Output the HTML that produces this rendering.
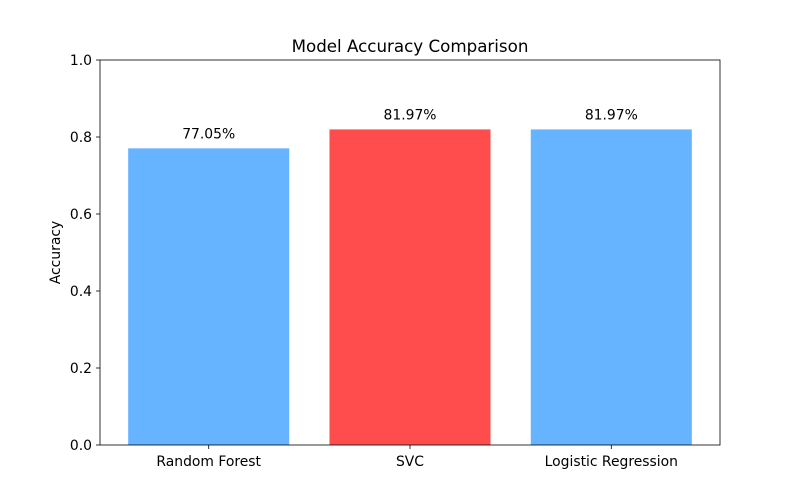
<!DOCTYPE html>
<html><head><meta charset="utf-8"><style>body{margin:0;background:#fff}svg{display:block;font-family:"DejaVu Sans","Liberation Sans",sans-serif}</style></head>
<body>
<svg id="chart" width="800" height="500"></svg>
<script>
const categories = ["Random Forest", "SVC", "Logistic Regression"];
const accuracies = [0.7705, 0.8197, 0.8197];
const barColors = ["#66b3ff", "#ff4c4c", "#66b3ff"];
const yTicks = [0.0, 0.2, 0.4, 0.6, 0.8, 1.0];

const svg = document.getElementById('chart');
const NS = 'http://www.w3.org/2000/svg';
const L = 100, R = 720, T = 60, B = 445;
const xmin = -0.54, xmax = categories.length - 1 + 0.54;
const xS = v => L + (v - xmin) / (xmax - xmin) * (R - L);
const yS = v => B - v * (B - T);
function mk(tag, attrs, parent) {
  const e = document.createElementNS(NS, tag);
  for (const k in attrs) e.setAttribute(k, attrs[k]);
  (parent || svg).appendChild(e);
  return e;
}
const title = mk('text', {x: (L + R) / 2, y: 52, 'text-anchor': 'middle', 'font-size': 16.7, fill: '#000'});
title.textContent = 'Model Accuracy Comparison';



categories.forEach((c, i) => {
  const x0 = xS(i - 0.4), x1 = xS(i + 0.4);
  const bar = mk('rect', {x: x0, y: yS(accuracies[i]), width: x1 - x0, height: yS(0) - yS(accuracies[i]), fill: barColors[i]});
  
  
  const lbl = mk('text', {x: xS(i), y: yS(accuracies[i]) - 10, 'text-anchor': 'middle', 'font-size': 13.9, fill: '#000'});
  lbl.textContent = (accuracies[i] * 100).toFixed(2) + '%';
  
  
  mk('line', {x1: xS(i), x2: xS(i), y1: B, y2: B + 4, stroke: '#000', 'stroke-width': 0.8});
  const tl = mk('text', {x: xS(i), y: B + 21, 'text-anchor': 'middle', 'font-size': 13.9, fill: '#000'});
  tl.textContent = c;
  
  
});
yTicks.forEach(v => {
  mk('line', {x1: L - 4, x2: L, y1: yS(v), y2: yS(v), stroke: '#000', 'stroke-width': 0.8});
  const t = mk('text', {x: L - 8, y: yS(v) + 5, 'text-anchor': 'end', 'font-size': 13.9, fill: '#000'});
  t.textContent = v.toFixed(1);
  
  
});
const frame = mk('rect', {x: L, y: T, width: R - L, height: B - T, fill: 'none', stroke: '#000', 'stroke-width': 0.8});


const yt = mk('text', {x: 60, y: (T + B) / 2, 'text-anchor': 'middle', 'font-size': 13.9, fill: '#000', transform: `rotate(-90 60 ${(T + B) / 2})`});
yt.textContent = 'Accuracy';


</script>
</body></html>
